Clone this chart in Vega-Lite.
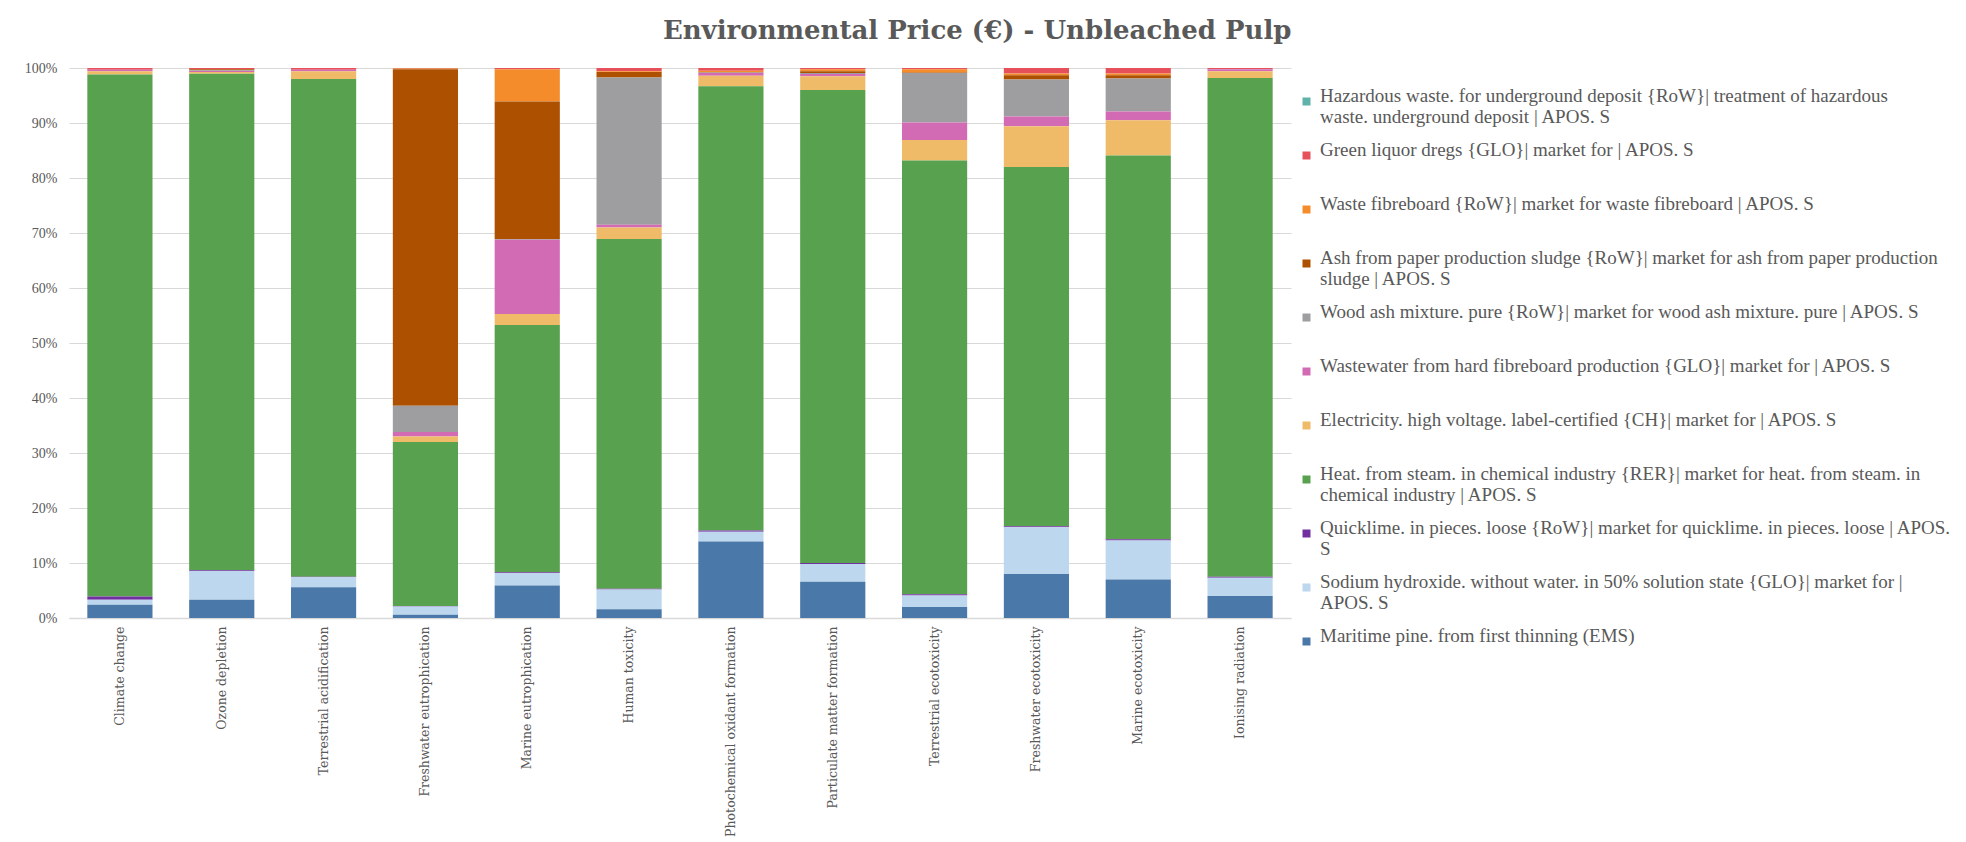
{
  "$schema": "https://vega.github.io/schema/vega-lite/v6.json",
  "width": 1222,
  "height": 550,
  "autosize": {"type": "none"},
  "padding": {"left": 69, "top": 68, "right": 675, "bottom": 224},
  "background": "white",
  "title": {
    "text": "Environmental Price (€) - Unbleached Pulp",
    "font": "DejaVu Serif",
    "fontSize": 26,
    "fontWeight": "bold",
    "color": "#595959",
    "anchor": "middle",
    "frame": "bounds",
    "dx": -11,
    "offset": 17
  },
  "data": {
    "values": [
      {"category": "Climate change", "k11": 2.4, "k10": 0.9, "k09": 0.6, "k08": 94.95, "k07": 0.55, "k06": 0.3, "k05": 0, "k04": 0, "k03": 0, "k02": 0.3, "k01": 0.01},
      {"category": "Ozone depletion", "k11": 3.3, "k10": 5.25, "k09": 0.15, "k08": 90.25, "k07": 0.35, "k06": 0.15, "k05": 0.15, "k04": 0.2, "k03": 0, "k02": 0.2, "k01": 0.01},
      {"category": "Terrestrial acidification", "k11": 5.6, "k10": 1.8, "k09": 0.1, "k08": 90.5, "k07": 1.4, "k06": 0.3, "k05": 0, "k04": 0, "k03": 0, "k02": 0.3, "k01": 0.01},
      {"category": "Freshwater eutrophication", "k11": 0.6, "k10": 1.5, "k09": 0.1, "k08": 29.8, "k07": 1.0, "k06": 0.8, "k05": 4.8, "k04": 61.2, "k03": 0.1, "k02": 0.1, "k01": 0.01},
      {"category": "Marine eutrophication", "k11": 5.9, "k10": 2.3, "k09": 0.1, "k08": 45.0, "k07": 2.0, "k06": 13.5, "k05": 0.1, "k04": 25.0, "k03": 5.9, "k02": 0.2, "k01": 0.01},
      {"category": "Human toxicity", "k11": 1.6, "k10": 3.6, "k09": 0.1, "k08": 63.6, "k07": 2.1, "k06": 0.5, "k05": 26.8, "k04": 1.0, "k03": 0.1, "k02": 0.6, "k01": 0.01},
      {"category": "Photochemical oxidant formation", "k11": 13.9, "k10": 1.8, "k09": 0.2, "k08": 80.8, "k07": 1.9, "k06": 0.5, "k05": 0.1, "k04": 0.1, "k03": 0.2, "k02": 0.5, "k01": 0.01},
      {"category": "Particulate matter formation", "k11": 6.6, "k10": 3.2, "k09": 0.2, "k08": 86.0, "k07": 2.5, "k06": 0.4, "k05": 0.2, "k04": 0.3, "k03": 0.4, "k02": 0.2, "k01": 0.01},
      {"category": "Terrestrial ecotoxicity", "k11": 2.0, "k10": 2.1, "k09": 0.2, "k08": 78.9, "k07": 3.7, "k06": 3.2, "k05": 9.0, "k04": 0.1, "k03": 0.6, "k02": 0.2, "k01": 0.01},
      {"category": "Freshwater ecotoxicity", "k11": 8.0, "k10": 8.5, "k09": 0.2, "k08": 65.3, "k07": 7.4, "k06": 1.8, "k05": 6.7, "k04": 0.8, "k03": 0.3, "k02": 1.0, "k01": 0.01},
      {"category": "Marine ecotoxicity", "k11": 7.0, "k10": 7.1, "k09": 0.2, "k08": 69.8, "k07": 6.4, "k06": 1.6, "k05": 6.0, "k04": 0.6, "k03": 0.3, "k02": 1.0, "k01": 0.01},
      {"category": "Ionising radiation", "k11": 4.0, "k10": 3.3, "k09": 0.2, "k08": 90.7, "k07": 1.2, "k06": 0.4, "k05": 0.05, "k04": 0, "k03": 0, "k02": 0.15, "k01": 0.01}
    ]
  },
  "transform": [
    {"fold": ["k01", "k02", "k03", "k04", "k05", "k06", "k07", "k08", "k09", "k10", "k11"], "as": ["series", "value"]}
  ],
  "mark": {"type": "bar"},
  "encoding": {
    "x": {
      "field": "category",
      "type": "nominal",
      "sort": null,
      "scale": {"paddingInner": 0.36, "paddingOuter": 0.18},
      "axis": {
        "title": null,
        "labelAngle": -90,
        "labelFont": "DejaVu Serif",
        "labelFontSize": 12.5,
        "labelColor": "#595959",
        "labelPadding": 8,
        "labelLimit": 400,
        "ticks": false,
        "domainColor": "#d9d9d9",
        "domainWidth": 1.5
      }
    },
    "y": {
      "field": "value",
      "type": "quantitative",
      "stack": "normalize",
      "scale": {"domain": [0, 1], "nice": false},
      "axis": {
        "title": null,
        "format": ".0%",
        "values": [0, 0.1, 0.2, 0.3, 0.4, 0.5, 0.6, 0.7, 0.8, 0.9, 1],
        "labelFont": "Liberation Serif",
        "labelFontSize": 14,
        "labelColor": "#595959",
        "labelPadding": 12,
        "ticks": false,
        "domain": false,
        "gridColor": "#d9d9d9",
        "gridWidth": 1.2
      }
    },
    "order": {"field": "series", "sort": "descending"},
    "color": {
      "field": "series",
      "type": "nominal",
      "scale": {
        "domain": ["k01", "k02", "k03", "k04", "k05", "k06", "k07", "k08", "k09", "k10", "k11"],
        "range": ["#5fb3ab", "#e5505b", "#f48c2c", "#ad5100", "#9e9d9f", "#d36bb4", "#f0bb68", "#58a14e", "#7030a0", "#bdd7ee", "#4a78a8"]
      },
      "legend": {
        "title": null,
        "orient": "none",
        "legendX": 1228,
        "legendY": 24,
        "direction": "vertical",
        "symbolType": "square",
        "symbolSize": 64,
        "symbolStrokeWidth": 0,
        "labelFont": "Liberation Serif",
        "labelFontSize": 19,
        "labelColor": "#595959",
        "labelBaseline": "alphabetic",
        "labelLimit": 800,
        "labelOffset": 4,
        "gridAlign": "all",
        "rowPadding": 13,
        "labelExpr": "datum.label == 'k01' ? ['Hazardous waste. for underground deposit {RoW}| treatment of hazardous', 'waste. underground deposit | APOS. S'] : datum.label == 'k02' ? 'Green liquor dregs {GLO}| market for | APOS. S' : datum.label == 'k03' ? 'Waste fibreboard {RoW}| market for waste fibreboard | APOS. S' : datum.label == 'k04' ? ['Ash from paper production sludge {RoW}| market for ash from paper production', 'sludge | APOS. S'] : datum.label == 'k05' ? 'Wood ash mixture. pure {RoW}| market for wood ash mixture. pure | APOS. S' : datum.label == 'k06' ? 'Wastewater from hard fibreboard production {GLO}| market for | APOS. S' : datum.label == 'k07' ? 'Electricity. high voltage. label-certified {CH}| market for | APOS. S' : datum.label == 'k08' ? ['Heat. from steam. in chemical industry {RER}| market for heat. from steam. in', 'chemical industry | APOS. S'] : datum.label == 'k09' ? ['Quicklime. in pieces. loose {RoW}| market for quicklime. in pieces. loose | APOS.', 'S'] : datum.label == 'k10' ? ['Sodium hydroxide. without water. in 50% solution state {GLO}| market for |', 'APOS. S'] : 'Maritime pine. from first thinning (EMS)'"
      }
    }
  },
  "config": {
    "view": {"stroke": null}
  }
}
